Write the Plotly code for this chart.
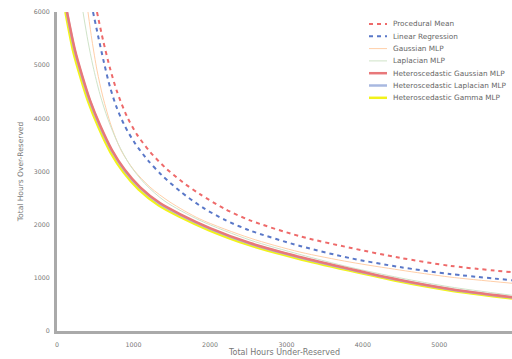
import plotly.graph_objects as go

# ---- data ----
# Procedural Mean
pm_x = [523, 601, 693, 784, 915, 1046, 1216, 1412, 1647, 1869, 2196, 2523, 3176, 3830, 4483, 5137, 5950]
pm_y = [6000, 5477, 4943, 4506, 4035, 3694, 3371, 3077, 2795, 2573, 2295, 2082, 1782, 1566, 1377, 1227, 1105]
# Linear Regression
lr_x = [471, 536, 614, 693, 784, 889, 1020, 1189, 1372, 1608, 1908, 2196, 2523, 3176, 3830, 4483, 5137, 5950]
lr_y = [6000, 5560, 5050, 4590, 4190, 3850, 3530, 3210, 2930, 2630, 2320, 2090, 1890, 1600, 1372, 1203, 1072, 955]
# Gaussian MLP
gm_x = [405, 457, 523, 601, 706, 836, 1006, 1216, 1477, 1869, 2523, 3176, 3830, 4483, 5137, 5950]
gm_y = [6000, 5471, 4907, 4399, 3873, 3403, 3027, 2707, 2425, 2106, 1748, 1485, 1297, 1147, 1015, 898]
# Laplacian MLP
lm_x = [340, 405, 471, 562, 667, 797, 954, 1150, 1412, 1869, 2523, 3176, 3830, 4483, 5137, 5950]
lm_y = [6000, 5450, 4980, 4450, 3980, 3530, 3120, 2770, 2440, 2080, 1711, 1440, 1200, 1000, 830, 672]
# Heteroscedastic Gaussian MLP
hg_x = [131, 235, 327, 431, 562, 719, 889, 1085, 1346, 1607, 2000, 2523, 3176, 3830, 4483, 5137, 5950]
hg_y = [6000, 5283, 4813, 4343, 3873, 3403, 3027, 2707, 2406, 2200, 1936, 1654, 1391, 1166, 959, 790, 635]
# Heteroscedastic Laplacian MLP
hl_x = [128, 232, 324, 428, 559, 716, 886, 1082, 1343, 1604, 1997, 2520, 3173, 3827, 4480, 5134, 5950]
hl_y = [6000, 5270, 4800, 4330, 3860, 3390, 3015, 2695, 2395, 2190, 1926, 1645, 1383, 1159, 953, 785, 630]
# Heteroscedastic Gamma MLP
hm_x = [110, 215, 307, 411, 542, 699, 869, 1065, 1326, 1587, 1980, 2503, 3156, 3810, 4463, 5117, 5950]
hm_y = [6000, 5240, 4770, 4300, 3830, 3360, 2985, 2665, 2365, 2160, 1900, 1620, 1360, 1140, 935, 768, 612]

x_ticks = [0, 1000, 2000, 3000, 4000, 5000, 6000]
y_ticks = [0, 1000, 2000, 3000, 4000, 5000, 6000]

names = ["Procedural Mean", "Linear Regression", "Gaussian MLP", "Laplacian MLP",
         "Heteroscedastic Gaussian MLP", "Heteroscedastic Laplacian MLP", "Heteroscedastic Gamma MLP"]
xs_all = [pm_x, lr_x, gm_x, lm_x, hg_x, hl_x, hm_x]
ys_all = [pm_y, lr_y, gm_y, lm_y, hg_y, hl_y, hm_y]
styles = [
    dict(color="#ee6a6a", width=2, dash="4px,4px"),
    dict(color="#5a78c8", width=2, dash="4px,4px"),
    dict(color="#ffcfa8", width=1),
    dict(color="#cfe3c8", width=1),
    dict(color="#e8787a", width=2.5),
    dict(color="#a8b8e0", width=2.5),
    dict(color="#f2f21a", width=2.5),
]

# ---- layout constants ----
W, H = 512, 359
ML, MR, MT, MB = 57, 0, 12, 28
PW, PH = W - ML - MR, H - MT - MB

fig = go.Figure()
order = [0, 1, 2, 3, 6, 5, 4]
for i in order:
    fig.add_trace(go.Scatter(x=xs_all[i], y=ys_all[i], mode="lines", name=names[i],
                             line=dict(shape="spline", smoothing=0.8, **styles[i]),
                             showlegend=False))

# manual legend (compact row spacing like the reference)
leg_sym_x0, leg_sym_x1, leg_txt_x, leg_y0, leg_dy = 369, 387, 391, 24, 12.3
shapes, annots = [], []
for i, name in enumerate(names):
    py = leg_y0 + leg_dy * i
    yp = (H - MB - py) / PH
    shapes.append(dict(type="line", xref="paper", yref="paper",
                       x0=(leg_sym_x0 - ML) / PW, x1=(leg_sym_x1 - ML) / PW, y0=yp, y1=yp,
                       line=styles[i]))
    annots.append(dict(text=name, xref="paper", yref="paper", x=(leg_txt_x - ML) / PW, y=yp,
                       xanchor="left", yanchor="middle", showarrow=False,
                       font=dict(family="DejaVu Sans", size=7.3, color="#666")))

fig.update_layout(
    width=W, height=H,
    margin=dict(l=ML, r=MR, t=MT, b=MB),
    plot_bgcolor="white", paper_bgcolor="white",
    font=dict(family="DejaVu Sans", size=6.3, color="#777"),
    showlegend=False,
    shapes=shapes, annotations=annots,
    xaxis=dict(range=[0, 5950], tickvals=x_ticks, ticktext=[str(v) for v in x_ticks],
               showgrid=False, zeroline=False, showline=True, linecolor="#aaaaaa", linewidth=3,
               ticks="outside", ticklen=5, tickcolor="rgba(0,0,0,0)",
               title=dict(text="Total Hours Under-Reserved", font=dict(size=8, color="#777"), standoff=0)),
    yaxis=dict(range=[0, 6000], tickvals=y_ticks, ticktext=[str(v) for v in y_ticks],
               showgrid=False, zeroline=False, showline=True, linecolor="#aaaaaa", linewidth=3,
               ticks="outside", ticklen=3, tickcolor="rgba(0,0,0,0)",
               title=dict(text="Total Hours Over-Reserved", font=dict(size=7.5, color="#777"), standoff=10)),
)

fig.write_html("out.html")
